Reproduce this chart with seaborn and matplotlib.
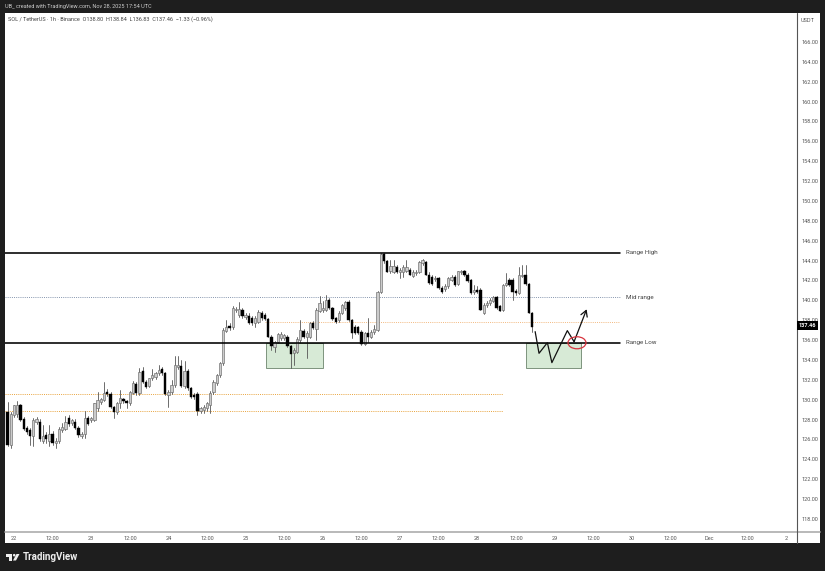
import matplotlib
matplotlib.use("Agg")
import matplotlib.pyplot as plt
from matplotlib.patches import Rectangle, Ellipse, Polygon, Circle
import numpy as np
import pandas as pd
import seaborn as sns

# (open, high, low, close) per hourly candle
candles = [
(128.8,129.8,125.3,125.45),(125.45,128.8,125.1,128.6),(128.45,129.5,128.3,129.45),(128.6,129.9,128.3,129.45),
(129.45,129.6,127.9,128.0),(128.1,128.3,127.0,127.1),(127.2,127.4,126.6,126.8),(126.95,127.2,125.45,126.3),
(126.3,128.2,125.3,128.0),(127.8,128.3,127.6,128.1),(127.8,128.1,125.8,126.0),(125.8,127.45,125.6,126.3),
(126.45,126.8,125.6,126.0),(125.8,127.45,125.35,126.6),(126.6,126.9,125.4,125.6),(125.6,126.1,125.1,125.8),
(125.8,127.3,125.6,127.1),(126.95,127.7,126.8,127.3),(127.1,128.4,127.0,127.8),(128.2,128.5,127.4,127.6),
(127.7,128.1,127.5,128.0),(127.8,128.1,127.1,127.2),(127.2,127.4,126.2,126.45),(126.3,126.8,126.1,126.6),
(126.6,128.9,126.1,128.13),(128.2,128.4,127.5,127.6),(128.0,128.3,127.8,128.13),(128.0,129.7,127.9,129.64),
(129.13,130.8,128.9,130.0),(129.8,130.2,129.6,130.04),(130.0,131.8,129.9,130.7),(130.8,131.1,130.4,130.6),
(130.6,130.8,129.2,129.3),(129.3,129.4,128.13,128.8),(128.8,129.8,128.6,129.7),(129.7,131.0,129.13,130.14),
(130.04,130.2,129.7,129.87),(129.9,130.0,129.13,129.7),(129.7,130.9,129.5,130.8),(130.7,131.9,130.6,131.65),
(131.6,131.8,130.5,130.7),(130.7,133.16,130.5,132.8),(132.9,133.33,131.7,131.8),(131.8,132.0,131.2,131.3),
(131.4,132.2,131.3,132.15),(132.15,133.06,132.0,132.5),(132.3,132.8,132.1,132.66),(132.66,133.5,132.5,133.0),
(133.06,133.3,132.5,132.66),(132.66,132.8,130.5,130.6),(130.5,131.0,129.3,130.8),(130.8,132.0,130.6,131.5),
(131.5,134.4,131.3,133.5),(133.33,134.4,133.1,133.5),(133.4,134.0,131.3,131.4),(131.4,133.9,131.2,132.9),
(132.9,133.1,131.0,131.15),(131.15,131.3,130.2,130.3),(130.5,130.7,130.1,130.25),(130.6,130.8,128.46,128.87),
(128.87,129.3,128.7,129.13),(129.0,129.5,128.7,129.3),(129.13,129.8,128.9,129.64),(129.47,130.9,128.63,130.7),
(130.8,132.0,130.6,131.8),(131.65,132.6,131.5,132.5),(132.5,133.8,132.3,133.66),(133.66,137.2,133.5,137.0),
(136.95,138.0,136.8,137.3),(137.42,137.7,137.0,137.2),(137.3,139.4,137.1,139.2),(139.0,139.3,138.8,139.1),
(138.5,139.87,138.3,139.1),(139.03,139.2,138.2,138.4),(138.3,138.7,138.1,138.5),(138.4,138.7,137.6,137.75),
(138.2,138.4,137.5,137.7),(137.7,138.4,137.3,138.2),(137.85,139.03,137.7,138.86),(138.76,138.9,138.0,138.2),
(138.5,138.7,138.0,138.1),(138.1,138.2,136.3,136.35),(136.35,136.5,135.0,135.4),(135.34,135.9,134.84,135.84),
(135.84,136.7,135.7,136.6),(136.18,136.8,136.0,136.6),(136.18,136.6,136.0,136.55),(136.28,136.5,135.3,135.4),
(135.4,135.5,133.16,134.6),(134.67,135.2,133.5,135.0),(134.84,136.3,134.7,136.08),(136.0,138.0,135.8,137.0),
(136.95,137.1,136.2,136.28),(136.28,136.9,134.16,136.7),(136.35,137.8,136.2,137.7),(137.75,137.9,137.1,137.2),
(137.08,139.2,136.0,139.03),(138.96,140.44,138.8,139.7),(139.0,139.9,138.8,139.2),(139.03,140.54,138.9,140.03),
(140.03,140.2,139.1,139.2),(139.2,139.3,138.0,138.1),(138.2,138.3,137.7,137.85),(138.0,138.9,137.8,138.76),
(138.76,139.6,138.6,139.53),(139.2,139.9,139.0,139.87),(139.87,140.0,137.9,138.0),(138.0,138.1,136.18,136.75),
(137.3,137.5,136.6,136.7),(137.3,137.4,136.6,136.75),(136.85,137.0,135.5,135.6),(135.6,136.8,135.5,136.7),
(136.7,138.2,135.84,136.35),(136.35,137.0,136.2,136.85),(136.85,137.5,136.6,137.08),(137.0,140.9,136.9,140.87),
(140.8,144.8,140.7,144.66),(144.66,144.75,143.8,144.0),(144.0,144.1,142.8,142.9),(143.0,144.1,142.7,143.45),
(142.9,144.1,142.7,143.45),(143.4,143.6,142.7,142.9),(142.9,143.3,142.2,143.05),(142.9,143.6,142.3,143.4),
(143.0,144.1,142.8,143.32),(143.05,143.3,142.5,142.55),(142.45,143.05,142.3,142.9),(142.7,143.1,142.5,142.9),
(142.9,144.0,142.7,143.9),(143.8,144.15,143.6,144.06),(143.9,144.0,142.5,142.55),(142.55,142.9,141.6,141.7),
(142.3,142.5,141.5,141.65),(142.1,142.4,141.9,142.2),(142.2,142.3,141.1,141.2),(141.2,141.4,140.7,140.87),
(141.1,141.6,140.9,141.4),(141.4,142.3,141.2,142.2),(142.05,142.5,141.9,142.3),(142.3,142.5,141.4,141.55),
(141.65,143.0,141.5,142.96),(142.8,143.1,142.6,143.0),(143.0,143.1,142.4,142.55),(142.55,142.7,141.8,141.9),
(142.0,142.1,140.6,140.7),(140.87,141.5,140.6,141.04),(141.04,141.4,140.7,140.87),(141.04,141.2,139.0,139.03),
(138.76,139.7,138.6,139.53),(139.53,139.9,139.3,139.76),(139.7,140.2,139.5,140.03),(139.97,140.4,139.8,140.3),
(140.3,140.4,139.1,139.2),(139.43,139.5,138.9,138.96),(139.03,141.6,138.9,141.55),(141.55,142.7,141.4,141.7),
(142.05,142.2,141.4,141.55),(142.05,142.2,140.03,140.87),(140.95,141.1,140.5,140.7),(140.7,143.4,140.6,142.55),
(142.4,143.55,142.3,142.55),(142.55,143.55,141.5,141.65),(141.65,141.7,138.7,138.76),(138.76,138.8,136.85,137.35),
]
first_hour = -2

range_high = 144.8
range_low = 135.75
mid_range = 140.3
upper_orange = 137.8
lower_orange = [130.6, 128.9]
box_bottom = 133.15
box_hours = [(78.2, 96.2), (159.2, 176.1)]
sketch_hours = [162.0, 163.2, 165.8, 167.2, 172.0, 174.1]
sketch_price = [136.85, 134.67, 135.74, 133.73, 136.95, 135.84]
arrow_tip = (178.0, 139.1)
circle_centre = (175, 135.73)

x_ticks = list(range(0, 241, 12))
x_labels = ["22","12:00","23","12:00","24","12:00","25","12:00","26","12:00","27","12:00",
            "28","12:00","29","12:00","30","12:00","Dec","12:00","2"]
y_ticks = list(range(118, 167, 2))
last_price = 137.46

sns.set_theme(style="white")
plt.rcParams['font.family'] = ['Roboto', 'DejaVu Sans']
W, H = 825, 571
fig = plt.figure(figsize=(W/100, H/100), dpi=100, facecolor="#1e1e1e")

# page layer in pixel coordinates
bg = fig.add_axes([0, 0, 1, 1], zorder=0)
bg.set_xlim(0, W); bg.set_ylim(H, 0); bg.axis("off")
bg.add_patch(Rectangle((5, 12.5), 815, 530.5, fc="white", ec="none"))
bg.plot([5, 820], [532, 532], color="#adadad", lw=1.2)
bg.plot([796.7, 796.7], [12.5, 543], color="#555555", lw=0.8)
bg.text(5, 6.5, "UB_ created with TradingView.com, Nov 28, 2025 17:54 UTC", color="#cccccc",
        fontsize=3.95, va="center")
bg.text(8, 19, "SOL / TetherUS · 1h · Binance  O138.80  H138.84  L136.83  C137.46  −1.33 (−0.96%)",
        color="#444444", fontsize=3.95, va="center")
bg.text(808, 20, "USDT", color="#555555", fontsize=4.0, ha="center", va="center")
bg.text(22.5, 557.5, "TradingView", color="#eeeeee", fontsize=7.0, fontweight="bold", va="center")
bg.add_patch(Polygon([(6, 554), (12, 554), (12, 560.5), (9.2, 560.5), (9.2, 556.6), (6, 556.6)], fc="#eeeeee", ec="none"))
bg.add_patch(Circle((14.2, 555.2), 1.3, fc="#eeeeee", ec="none"))
bg.add_patch(Polygon([(16.5, 554), (19.5, 554), (16, 560.5), (13, 560.5)], fc="#eeeeee", ec="none"))

ax = fig.add_axes([5/W, (H-532)/H, 791.7/W, 519.5/H], zorder=1)
ax.patch.set_alpha(0)

o, hi, lo, c = map(np.array, zip(*candles))
hours = first_hour + np.arange(len(candles))

# zones and levels, under the candles
for h0, h1 in box_hours:
    ax.add_patch(Rectangle((h0, box_bottom), h1-h0, range_low-box_bottom, fc="#d7ead6", ec="#7d937d", lw=0.7, zorder=1))
xmin, xend = -2.8, 188.4
ax.plot([xmin, xend], [mid_range]*2, color="#8494ad", lw=0.7, ls=(0, (1, 1.2)), zorder=1.5)
ax.plot([78, xend], [upper_orange]*2, color="#f2b87e", lw=0.7, ls=(0, (1, 1.2)), zorder=1.5)
for lev in lower_orange:
    ax.plot([xmin, 152], [lev]*2, color="#e8a33d", lw=0.7, ls=(0, (1, 1.2)), zorder=1.5)

# wicks through seaborn
wicks = pd.DataFrame({"h": np.r_[hours, hours], "p": np.r_[lo, hi], "u": np.r_[hours, hours]})
sns.lineplot(data=wicks, x="h", y="p", units="u", estimator=None, color="#555555", lw=0.6, ax=ax, legend=False, zorder=2)

# bodies
up = c >= o
ax.bar(hours[up], (c-o)[up], bottom=o[up], width=0.72, color="#cccccc", edgecolor="#6a6a6a", lw=0.45, zorder=3)
ax.bar(hours[~up], (c-o)[~up], bottom=o[~up], width=0.72, color="#000000", edgecolor="#000000", lw=0.3, zorder=3)

ax.plot([xmin, xend], [range_high]*2, color="black", lw=1.15, zorder=4)
ax.plot([xmin, xend], [range_low]*2, color="black", lw=1.15, zorder=4)

# hand drawn projection
sns.lineplot(x=sketch_hours, y=sketch_price, sort=False, estimator=None, color="#111111", lw=0.9, ax=ax, zorder=5)
ax.annotate("", xy=arrow_tip, xytext=(sketch_hours[-1], sketch_price[-1]),
            arrowprops=dict(arrowstyle="->,head_length=0.35,head_width=0.2", color="#111111", lw=0.9, shrinkA=0, shrinkB=0), zorder=5)
ax.add_patch(Ellipse(circle_centre, 18/3.2167, 12/9.94, fc="none", ec="#d8343f", lw=0.9, zorder=6))

for lab, lev in [("Range High", range_high), ("Mid range", mid_range), ("Range Low", range_low)]:
    ax.text(190.2, lev, lab, color="#444444", fontsize=4.5, va="center")

ax.set_xlim(-2.8, 243.3)
ax.set_ylim(116.69, 168.96)
ax.set_xlabel(""); ax.set_ylabel("")
ax.set_xticks(x_ticks); ax.set_xticklabels(x_labels)
ax.set_yticks(y_ticks); ax.set_yticklabels([f"{v:.2f}" for v in y_ticks])
ax.yaxis.tick_right()
ax.tick_params(axis="x", length=0, pad=2.6, labelsize=4.0, labelcolor="#555555")
ax.tick_params(axis="y", length=0, pad=3.4, labelsize=4.0, labelcolor="#555555")
ax.grid(False)
for s in ax.spines.values():
    s.set_visible(False)

# last price tag
ax.text(1.0136, last_price, f"{last_price:.2f}", transform=ax.get_yaxis_transform(), color="white", fontsize=4.0,
        fontweight="bold", va="center", ha="center",
        bbox=dict(boxstyle="square,pad=0.3", fc="black", ec="none"), zorder=10, clip_on=False)

fig.savefig("out.png", dpi=100, facecolor=fig.get_facecolor())
